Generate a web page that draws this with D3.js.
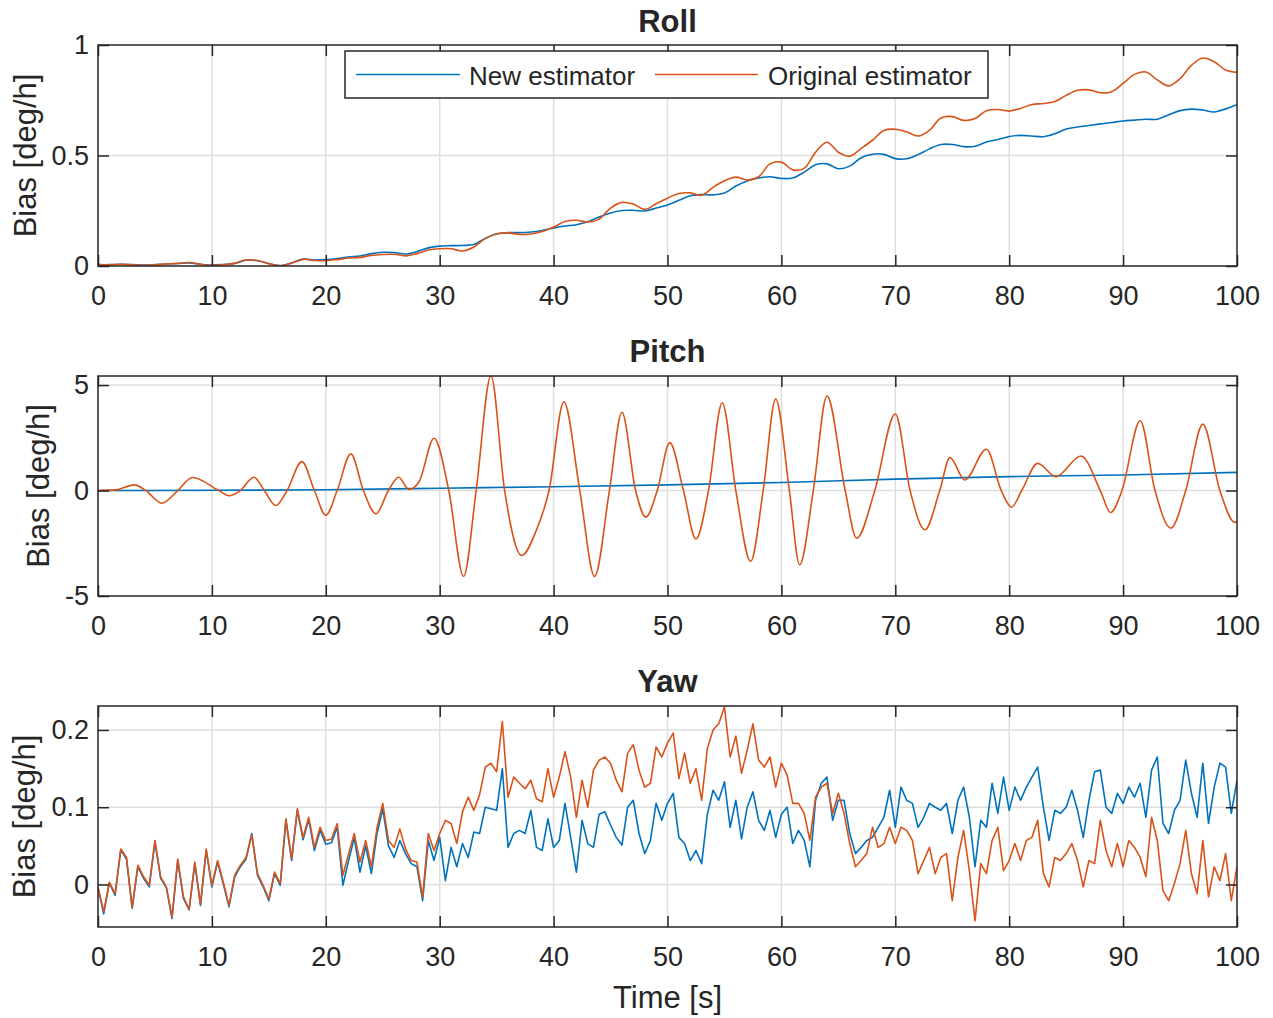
<!DOCTYPE html>
<html>
<head>
<meta charset="utf-8">
<script src="https://cdn.jsdelivr.net/npm/d3@7"></script>
<style>
  html, body { margin: 0; padding: 0; background: #fff; }
  svg { display: block; }
  text { font-family: "Liberation Sans", Arial, Helvetica, sans-serif; fill: #262626; }
</style>
</head>
<body>
<svg id="chart" width="1273" height="1018"></svg>
<script>
// ---------------- DATA ----------------
const seriesNames = ["New estimator", "Original estimator"];
const xTicks = [0, 10, 20, 30, 40, 50, 60, 70, 80, 90, 100];
const rollTicks = [0, 0.5, 1];
const pitchTicks = [-5, 0, 5];
const yawTicks = [0, 0.1, 0.2];

// Roll: sampled every 1 s, t = 0..100
const rollTime = d3.range(0, 101, 1);
const rollNew = [
  0.006, 0.006, 0.008, 0.006, 0.004, 0.006, 0.009, 0.011, 0.014, 0.008,
  0.004, 0.007, 0.012, 0.026, 0.024, 0.011, 0.002, 0.014, 0.031, 0.027,
  0.029, 0.034, 0.041, 0.045, 0.056, 0.062, 0.061, 0.054, 0.065, 0.082,
  0.090, 0.092, 0.093, 0.097, 0.125, 0.146, 0.151, 0.151, 0.154, 0.161,
  0.172, 0.181, 0.187, 0.200, 0.222, 0.240, 0.251, 0.252, 0.249, 0.262,
  0.276, 0.297, 0.318, 0.323, 0.322, 0.330, 0.362, 0.385, 0.398, 0.404,
  0.396, 0.398, 0.425, 0.458, 0.462, 0.440, 0.452, 0.490, 0.506, 0.505,
  0.486, 0.485, 0.504, 0.530, 0.550, 0.550, 0.540, 0.542, 0.561, 0.572,
  0.586, 0.591, 0.588, 0.585, 0.598, 0.620, 0.629, 0.636, 0.643, 0.649,
  0.656, 0.660, 0.664, 0.664, 0.684, 0.703, 0.710, 0.706, 0.697, 0.711,
  0.730
];
const rollOrig = [
  0.006, 0.005, 0.008, 0.005, 0.003, 0.006, 0.009, 0.012, 0.016, 0.008,
  0.003, 0.006, 0.012, 0.027, 0.025, 0.010, 0.001, 0.013, 0.030, 0.025,
  0.024, 0.029, 0.036, 0.039, 0.048, 0.052, 0.053, 0.046, 0.056, 0.072,
  0.078, 0.078, 0.068, 0.086, 0.124, 0.145, 0.150, 0.143, 0.145, 0.156,
  0.176, 0.201, 0.207, 0.199, 0.212, 0.262, 0.288, 0.280, 0.256, 0.282,
  0.307, 0.328, 0.331, 0.320, 0.356, 0.386, 0.402, 0.389, 0.404, 0.462,
  0.470, 0.435, 0.442, 0.515, 0.560, 0.515, 0.497, 0.532, 0.569, 0.613,
  0.619, 0.607, 0.588, 0.614, 0.670, 0.676, 0.659, 0.667, 0.703, 0.708,
  0.701, 0.713, 0.731, 0.735, 0.744, 0.772, 0.795, 0.797, 0.784, 0.789,
  0.826, 0.867, 0.878, 0.842, 0.815, 0.848, 0.908, 0.941, 0.924, 0.887,
  0.876
];

// Pitch: new estimator (slow drift) and original (oscillation: extrema & zero crossings)
const pitchNewTime = [0, 10, 20, 30, 40, 50, 60, 70, 80, 90, 100];
const pitchNew = [0, 0.01, 0.04, 0.11, 0.18, 0.27, 0.38, 0.54, 0.66, 0.74, 0.86];
const pitchOrigTime = [
  0, 1.5, 3.2, 4.2, 5.6, 7, 8.3, 10.6, 11.5, 12.5, 13.7, 14.6, 15.6, 16.6, 17.9,
  19, 20, 21, 22.2, 23.3, 24.4, 25.5, 26.4, 27.3, 28.2, 29.5, 30.8, 32.1, 33.2,
  34.5, 35.7, 37.2, 38.5, 39.6, 40.9, 42.3, 43.6, 44.9, 46, 47.2, 48.1, 49.1,
  50.2, 51.4, 52.5, 53.6, 54.8, 56, 57.3, 58.4, 59.5, 60.7, 61.6, 62.8, 64,
  65.6, 66.6, 68.2, 70, 71.3, 72.6, 73.9, 74.8, 76.1, 78, 79.3, 80.2, 81.1,
  82.5, 84.1, 86.3, 88, 88.9, 89.9, 91.5, 92.8, 94.2, 95.5, 97, 98.5, 99.8, 100
];
const pitchOrig = [
  0, 0.03, 0.27, 0, -0.6, 0, 0.62, 0, -0.25, 0, 0.63, 0, -0.71, 0, 1.37,
  0, -1.17, 0, 1.74, 0, -1.1, 0, 0.63, 0.05, 0.43, 2.48, 0, -4.07, 0,
  5.43, 0, -3.08, -1.86, 0, 4.21, 0, -4.07, 0, 3.71, 0, -1.26, 0,
  2.27, 0, -2.3, 0, 4.16, 0, -3.36, 0, 4.34, 0, -3.52, 0, 4.48,
  0, -2.26, 0, 3.63, 0, -1.86, 0, 1.56, 0.5, 1.96, 0, -0.79, 0,
  1.29, 0.66, 1.64, 0, -1.04, 0, 3.31, 0, -1.78, 0, 3.15, 0, -1.51, -1.47
];

// Yaw: sampled every 0.5 s, t = 0..100
const yawTime = d3.range(201).map(i => i * 0.5);
const yawNew = [
  -0.004, -0.038, 0.002, -0.014, 0.045, 0.033, -0.031, 0.023, 0.008, -0.003,
  0.055, 0.008, -0.004, -0.044, 0.031, -0.018, -0.033, 0.027, -0.027, 0.044,
  -0.003, 0.029, 0.001, -0.029, 0.010, 0.023, 0.033, 0.066, 0.012, -0.003,
  -0.021, 0.014, -0.001, 0.083, 0.031, 0.096, 0.058, 0.084, 0.044, 0.070,
  0.052, 0.054, 0.074, -0.001, 0.031, 0.060, 0.016, 0.050, 0.014, 0.066,
  0.098, 0.050, 0.035, 0.057, 0.040, 0.027, 0.023, -0.021, 0.057, 0.031,
  0.061, 0.005, 0.048, 0.023, 0.053, 0.035, 0.068, 0.066, 0.100, 0.098,
  0.096, 0.150, 0.048, 0.066, 0.070, 0.066, 0.096, 0.048, 0.044, 0.085,
  0.048, 0.057, 0.105, 0.061, 0.016, 0.083, 0.053, 0.048, 0.091, 0.094,
  0.077, 0.061, 0.051, 0.100, 0.109, 0.066, 0.040, 0.057, 0.105, 0.083,
  0.105, 0.118, 0.061, 0.053, 0.031, 0.044, 0.027, 0.091, 0.122, 0.109,
  0.133, 0.074, 0.109, 0.059, 0.100, 0.120, 0.083, 0.070, 0.096, 0.061,
  0.091, 0.100, 0.053, 0.070, 0.057, 0.023, 0.109, 0.131, 0.139, 0.083,
  0.109, 0.109, 0.066, 0.040, 0.048, 0.057, 0.061, 0.074, 0.087, 0.122,
  0.074, 0.126, 0.109, 0.105, 0.074, 0.087, 0.105, 0.100, 0.096, 0.105,
  0.066, 0.109, 0.126, 0.087, 0.023, 0.083, 0.074, 0.131, 0.092, 0.139,
  0.096, 0.126, 0.109, 0.126, 0.139, 0.152, 0.100, 0.057, 0.096, 0.092,
  0.100, 0.122, 0.096, 0.061, 0.109, 0.146, 0.148, 0.100, 0.092, 0.118,
  0.105, 0.126, 0.113, 0.131, 0.087, 0.148, 0.165, 0.079, 0.066, 0.096,
  0.109, 0.161, 0.118, 0.087, 0.157, 0.079, 0.126, 0.157, 0.152, 0.092,
  0.135
];
const yawOrig = [
  -0.003, -0.035, 0.003, -0.012, 0.046, 0.035, -0.030, 0.025, 0.010, -0.001,
  0.057, 0.010, -0.003, -0.042, 0.033, -0.016, -0.032, 0.029, -0.025, 0.046,
  -0.001, 0.031, 0.003, -0.027, 0.012, 0.025, 0.035, 0.064, 0.014, -0.001,
  -0.019, 0.016, 0.001, 0.085, 0.033, 0.098, 0.061, 0.087, 0.048, 0.074,
  0.057, 0.059, 0.079, 0.012, 0.040, 0.066, 0.029, 0.057, 0.023, 0.074,
  0.105, 0.057, 0.048, 0.072, 0.046, 0.031, 0.029, -0.016, 0.066, 0.044,
  0.066, 0.083, 0.079, 0.053, 0.094, 0.113, 0.096, 0.116, 0.152, 0.157,
  0.146, 0.211, 0.113, 0.139, 0.131, 0.124, 0.135, 0.111, 0.107, 0.150,
  0.113, 0.139, 0.172, 0.139, 0.087, 0.135, 0.100, 0.148, 0.161, 0.165,
  0.157, 0.135, 0.120, 0.170, 0.181, 0.148, 0.126, 0.131, 0.178, 0.165,
  0.183, 0.196, 0.137, 0.170, 0.131, 0.150, 0.109, 0.176, 0.200, 0.208,
  0.230, 0.165, 0.192, 0.144, 0.174, 0.208, 0.161, 0.152, 0.165, 0.126,
  0.157, 0.142, 0.105, 0.105, 0.092, 0.057, 0.113, 0.126, 0.131, 0.092,
  0.118, 0.092, 0.053, 0.023, 0.031, 0.040, 0.074, 0.048, 0.053, 0.074,
  0.053, 0.074, 0.070, 0.057, 0.014, 0.031, 0.048, 0.014, 0.035, 0.040,
  -0.021, 0.035, 0.070, 0.018, -0.047, 0.027, 0.014, 0.057, 0.074, 0.018,
  0.031, 0.053, 0.031, 0.057, 0.061, 0.083, 0.014, -0.003, 0.035, 0.031,
  0.040, 0.053, 0.031, -0.003, 0.031, 0.027, 0.083, 0.044, 0.023, 0.053,
  0.023, 0.057, 0.048, 0.035, 0.010, 0.087, 0.057, -0.008, -0.021, 0.001,
  0.027, 0.070, 0.014, -0.012, 0.057, -0.016, 0.023, 0.005, 0.040, -0.021,
  0.023
];

// ---------------- DRAWING ----------------
const COLORS = ["#0072BD", "#D95319"];
const AX = "#262626";
const svg = d3.select("#chart");
const X0 = 98, X1 = 1237;
const x = d3.scaleLinear().domain([0, 100]).range([X0, X1]);

const panels = [
  { title: "Roll", top: 45, bottom: 266, domain: [0, 1], ticks: rollTicks, fmt: d => d3.format("")(d),
    titleY: 32, labelX: 36, curve: d3.curveCatmullRom,
    series: [[rollTime, rollNew], [rollTime, rollOrig]] },
  { title: "Pitch", top: 376, bottom: 596, domain: [-5, 5.43], ticks: pitchTicks, fmt: d => String(d),
    titleY: 362, labelX: 49, curve: d3.curveMonotoneX,
    series: [[pitchNewTime, pitchNew], [pitchOrigTime, pitchOrig]] },
  { title: "Yaw", top: 706, bottom: 927, domain: [-0.055, 0.231], ticks: yawTicks, fmt: d => String(d),
    titleY: 692, labelX: 35, curve: d3.curveLinear,
    series: [[yawTime, yawNew], [yawTime, yawOrig]] }
];

panels.forEach((p, pi) => {
  const y = d3.scaleLinear().domain(p.domain).range([p.bottom, p.top]);
  const g = svg.append("g");
  const clipId = "clip" + pi;
  svg.append("clipPath").attr("id", clipId).append("rect")
    .attr("x", X0).attr("y", p.top).attr("width", X1 - X0).attr("height", p.bottom - p.top);

  // background
  g.append("rect").attr("x", X0).attr("y", p.top).attr("width", X1 - X0).attr("height", p.bottom - p.top)
    .attr("fill", "#fff");

  // grid
  const grid = g.append("g").attr("stroke", "#dedede").attr("stroke-width", 1.5);
  xTicks.filter(t => t > 0 && t < 100).forEach(t => {
    grid.append("line").attr("x1", x(t)).attr("x2", x(t)).attr("y1", p.top).attr("y2", p.bottom);
  });
  p.ticks.forEach(t => {
    const yy = y(t);
    if (yy > p.top + 1 && yy < p.bottom - 1)
      grid.append("line").attr("x1", X0).attr("x2", X1).attr("y1", yy).attr("y2", yy);
  });

  // lines
  const lg = g.append("g").attr("clip-path", `url(#${clipId})`);
  p.series.forEach(([ts, vs], si) => {
    const pts = ts.map((t, i) => [t, vs[i]]);
    const line = d3.line().x(d => x(d[0])).y(d => y(d[1])).curve(p.curve);
    lg.append("path").attr("d", line(pts)).attr("fill", "none")
      .attr("stroke", COLORS[si]).attr("stroke-width", 1.6).attr("stroke-linejoin", "round");
  });

  // axes (ticks inward)
  const fs = "27px";
  const bottomAxis = d3.axisBottom(x).tickValues(xTicks).tickSizeInner(-11).tickSizeOuter(0).tickPadding(20)
    .tickFormat(d3.format("d"));
  const ab = g.append("g").attr("transform", `translate(0,${p.bottom})`).call(bottomAxis);
  const topAxis = d3.axisTop(x).tickValues(xTicks).tickSizeInner(-11).tickSizeOuter(0).tickFormat("");
  const at = g.append("g").attr("transform", `translate(0,${p.top})`).call(topAxis);
  const leftAxis = d3.axisLeft(y).tickValues(p.ticks).tickSizeInner(-11).tickSizeOuter(0).tickPadding(9)
    .tickFormat(p.fmt);
  const al = g.append("g").attr("transform", `translate(${X0},0)`).call(leftAxis);
  const rightAxis = d3.axisRight(y).tickValues(p.ticks).tickSizeInner(-11).tickSizeOuter(0).tickFormat("");
  const ar = g.append("g").attr("transform", `translate(${X1},0)`).call(rightAxis);
  [ab, at, al, ar].forEach(a => {
    a.select(".domain").remove();
    a.selectAll("line").attr("stroke", AX).attr("stroke-width", 1.5);
    a.selectAll("text").attr("fill", AX).style("font-size", fs)
      .style("font-family", '"Liberation Sans", Arial, Helvetica, sans-serif');
  });

  // box
  g.append("rect").attr("x", X0).attr("y", p.top).attr("width", X1 - X0).attr("height", p.bottom - p.top)
    .attr("fill", "none").attr("stroke", AX).attr("stroke-width", 1.5);

  // title
  g.append("text").attr("x", (X0 + X1) / 2).attr("y", p.titleY).attr("text-anchor", "middle")
    .style("font-size", "31px").style("font-weight", "bold").attr("fill", "#000").text(p.title);

  // y label
  g.append("text").attr("transform", `translate(${p.labelX},${(p.top + p.bottom) / 2}) rotate(-90)`)
    .attr("text-anchor", "middle").style("font-size", "31px").text("Bias [deg/h]");
});

// x label
svg.append("text").attr("x", (X0 + X1) / 2).attr("y", 1008).attr("text-anchor", "middle")
  .style("font-size", "31px").text("Time [s]");

// legend
const leg = svg.append("g");
leg.append("rect").attr("x", 345).attr("y", 51).attr("width", 643).attr("height", 47)
  .attr("fill", "#fff").attr("stroke", AX).attr("stroke-width", 1.5);
const legItems = [
  { x1: 356, x2: 460, tx: 469 },
  { x1: 655, x2: 758, tx: 768 }
];
legItems.forEach((it, i) => {
  leg.append("line").attr("x1", it.x1).attr("x2", it.x2).attr("y1", 74.5).attr("y2", 74.5)
    .attr("stroke", COLORS[i]).attr("stroke-width", 1.6);
  leg.append("text").attr("x", it.tx).attr("y", 85).style("font-size", "26px").attr("fill", "#000")
    .text(seriesNames[i]);
});
</script>
</body>
</html>
